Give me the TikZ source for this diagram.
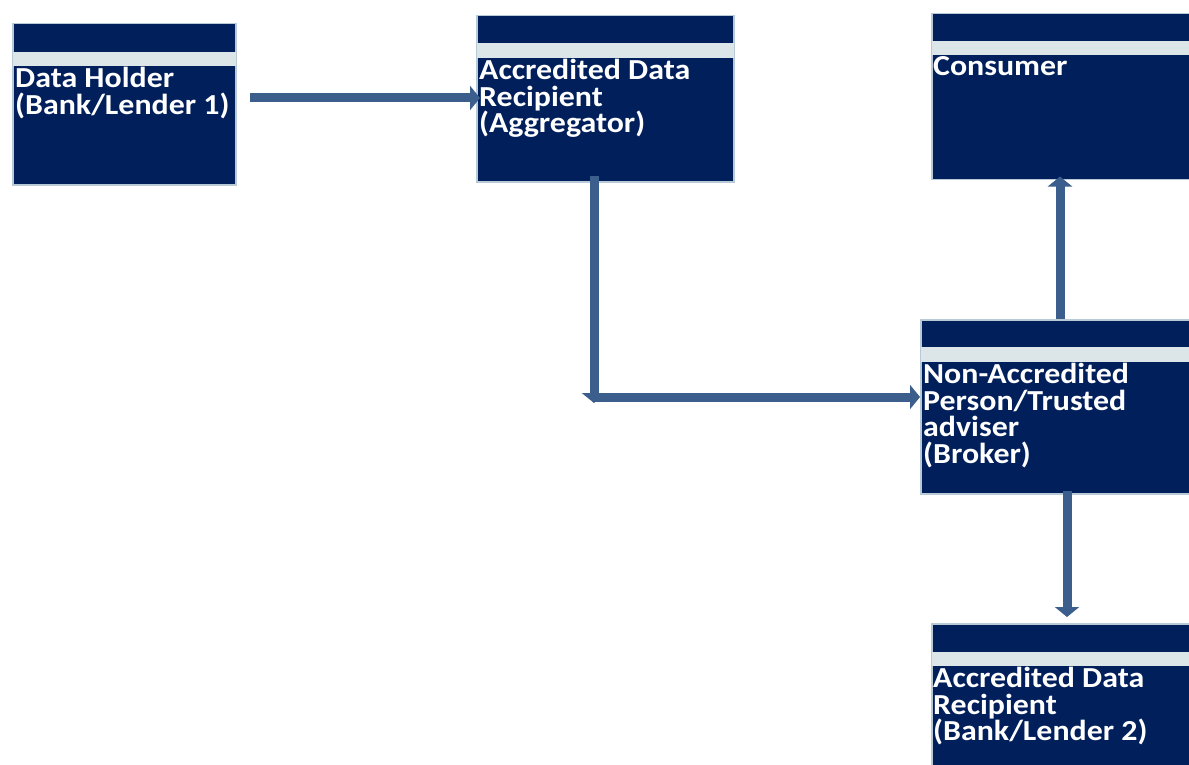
\documentclass[tikz,border=0pt]{standalone}
\usepackage{fontspec}
\setmainfont{Carlito}[FakeStretch=1.1]
\usetikzlibrary{arrows.meta}
\definecolor{navy}{RGB}{0,31,91}
\definecolor{stripec}{RGB}{220,230,232}
\definecolor{edgec}{RGB}{183,202,214}
\definecolor{arrc}{RGB}{59,94,140}
\begin{document}
\begin{tikzpicture}[x=1pt,y=-1pt,
  boxst/.style={draw=edgec, line width=1.5pt, fill=navy, rectangle, inner sep=0pt, anchor=north west},
  lbl/.style={anchor=north west, inner sep=0pt, align=left, text=white, font=\bfseries\fontsize{29}{26.5}\selectfont},
  arr/.style={draw=arrc, line width=9pt, -{Triangle[width=24pt,length=10pt]}}]
\useasboundingbox (0,0) rectangle (1189,765);
\clip (0,0) rectangle (1189,765);
% boxes
\node[boxst, minimum width=223pt, minimum height=161pt] (dh) at (12,23) {};
\node[boxst, minimum width=257pt, minimum height=166pt] (agg) at (476,15) {};
\node[boxst, minimum width=280pt, minimum height=166pt] (con) at (931,13) {};
\node[boxst, minimum width=290pt, minimum height=174pt] (brk) at (920,319) {};
\node[boxst, minimum width=280pt, minimum height=160pt] (adr) at (931,623) {};
% stripes
\fill[stripec] ([xshift=0.75pt,yshift=-29pt]dh.north west) rectangle ([xshift=-0.75pt,yshift=-43pt]dh.north east);
\fill[stripec] ([xshift=0.75pt,yshift=-28pt]agg.north west) rectangle ([xshift=-0.75pt,yshift=-43pt]agg.north east);
\fill[stripec] ([xshift=0.75pt,yshift=-28pt]con.north west) rectangle ([xshift=-0.75pt,yshift=-42pt]con.north east);
\fill[stripec] ([xshift=0.75pt,yshift=-28pt]brk.north west) rectangle ([xshift=-0.75pt,yshift=-43pt]brk.north east);
\fill[stripec] ([xshift=0.75pt,yshift=-29pt]adr.north west) rectangle ([xshift=-0.75pt,yshift=-43pt]adr.north east);
% labels
\node[lbl] (dht) at ([xshift=3pt,yshift=-44pt]dh.north west) {Data Holder\\(Bank/Lender 1)};
\node[lbl] (aggt) at ([xshift=3pt,yshift=-44pt]agg.north west) {Accredited Data\\Recipient\\(Aggregator)};
\node[lbl] (cont) at ([xshift=2pt,yshift=-43pt]con.north west) {Consumer};
\node[lbl] (brkt) at ([xshift=3pt,yshift=-44pt]brk.north west) {Non-Accredited\\Person/Trusted\\adviser\\(Broker)};
\node[lbl] (adrt) at ([xshift=2pt,yshift=-44pt]adr.north west) {Accredited Data\\Recipient\\(Bank/Lender 2)};
% connectors
\coordinate (a1s) at (250,98);
\draw[arr] (a1s) -- ([xshift=4pt]agg.west |- a1s);
\coordinate (a2s) at (594,176);
\coordinate (corner) at (594,403);
\coordinate (hs) at (594,397);
\draw[arr] (a2s) -- (corner);
\draw[arr] (hs) -- (brk.west |- hs);
\coordinate (a3s) at (1060,319);
\draw[arr] (a3s) -- ([yshift=4pt]con.south -| a3s);
\coordinate (a4s) at (1067,491);
\draw[arr] (a4s) -- (1067,617);
\end{tikzpicture}
\end{document}
